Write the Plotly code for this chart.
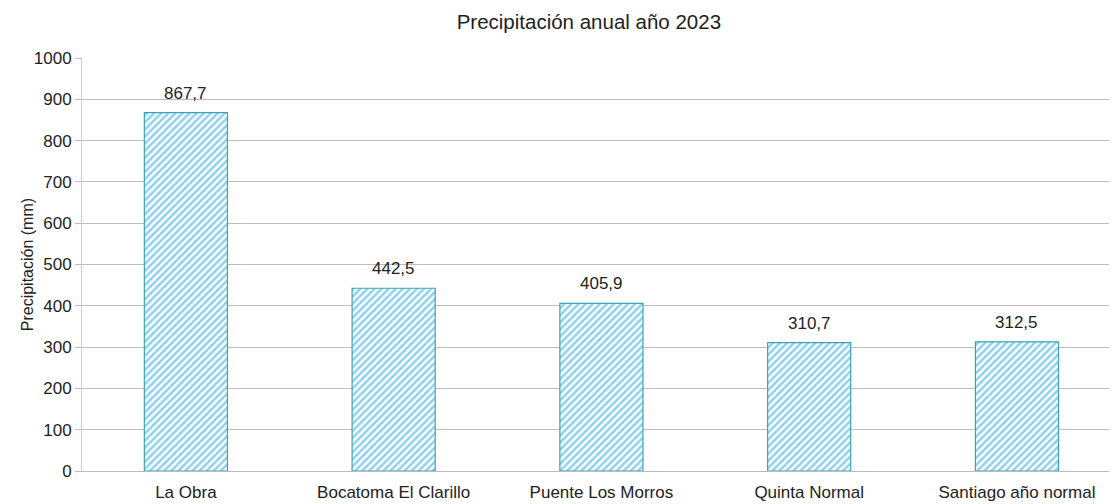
import plotly.graph_objects as go

categories = ["La Obra", "Bocatoma El Clarillo", "Puente Los Morros", "Quinta Normal", "Santiago año normal"]
values = [867.7, 442.5, 405.9, 310.7, 312.5]
labels = ["867,7", "442,5", "405,9", "310,7", "312,5"]
y_ticks = [0, 100, 200, 300, 400, 500, 600, 700, 800, 900, 1000]

fig = go.Figure(go.Bar(
    x=categories, y=values, width=0.4,
    marker=dict(
        color="white",
        line=dict(color="#3aa3b5", width=1.2),
        pattern=dict(shape="/", fgcolor="#1fa3da", bgcolor="white", size=5, solidity=0.5),
    ),
    cliponaxis=False,
))

for c, v, t in zip(categories, values, labels):
    fig.add_annotation(x=c, y=v, text=t, showarrow=False, yanchor="bottom", yshift=8,
                       font=dict(size=17, color="#222222"))

fig.add_annotation(xref="paper", yref="paper", x=-0.052, y=0.5, xanchor="center", yanchor="middle",
                   text="Precipitación (mm)", textangle=-90, showarrow=False,
                   font=dict(size=16, color="#222222"))

fig.update_layout(
    width=1117, height=504,
    margin=dict(l=74, r=0, t=50, b=41),
    paper_bgcolor="white", plot_bgcolor="white",
    font=dict(family="Liberation Sans, Arial, sans-serif", size=17, color="#222222"),
    title=dict(text="Precipitación anual año 2023", x=0.52, xanchor="center", y=0.972, yanchor="middle",
               font=dict(size=20.5, color="#222222")),
    showlegend=False,
    bargap=0.6,
)
fig.update_xaxes(range=[-0.5, 4.52], showline=True, linecolor="#bbbbbb", linewidth=1,
                 tickfont=dict(size=17), ticks="", showgrid=False, ticklabelstandoff=6)
fig.update_yaxes(range=[0, 1000], tickvals=y_ticks, showgrid=True, gridcolor="#bdbdbd", gridwidth=1,
                 showline=True, linecolor="#cccccc", linewidth=1, ticks="outside", ticklen=6,
                 tickcolor="#bbbbbb", tickfont=dict(size=17), zeroline=False)

fig.write_html("out.html")
